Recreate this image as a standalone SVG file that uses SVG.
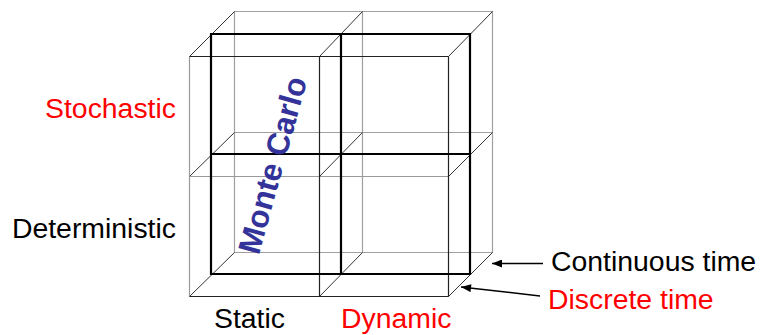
<svg xmlns="http://www.w3.org/2000/svg" width="760" height="335" viewBox="0 0 760 335">
<style>
.bk{stroke:#a0a0a0;stroke-width:1.2;fill:none}
.fr{stroke:#222;stroke-width:1.2;fill:none}
.frl{stroke:#999;stroke-width:1.2;fill:none}
.dg{stroke:#333;stroke-width:1;fill:none}
.md{stroke:#000;stroke-width:2.2;fill:none}
.lbl{font-family:"Liberation Sans",Arial,sans-serif;font-size:28.4px}
.red{fill:#ff0000}
.blk{fill:#000}
.arr{stroke:#000;stroke-width:1.5;fill:none}
</style>
<defs>
<marker id="ah" viewBox="0 0 10 8" refX="10" refY="4" markerWidth="11" markerHeight="8" markerUnits="userSpaceOnUse" orient="auto">
<path d="M0,0 L10,4 L0,8 Z" fill="#000"/>
</marker>
</defs>
<rect width="760" height="335" fill="#fff"/>
<g id="back-layer">
<path class="bk" d="M234.5,11.5 H492.5 V252.5 H234.5 Z M362.5,11.5 V252.5 M234.5,132.5 H492.5"/>
</g>
<g id="depth-edges">
<path class="dg" d="M189.5,56.5 L234.5,11.5 M319.5,56.5 L362.5,11.5 M448.5,56.5 L492.5,11.5 M189.5,176.5 L234.5,132.5 M319.5,176.5 L362.5,132.5 M448.5,176.5 L492.5,132.5 M189.5,296.5 L234.5,252.5 M319.5,296.5 L362.5,252.5 M448.5,296.5 L492.5,252.5"/>
</g>
<g id="front-layer">
<path class="frl" d="M189.5,56.5 V296.5 M189.5,176.5 H448.5"/>
<path class="fr" d="M189.5,56.5 H448.5 M189.5,296.5 H448.5 M448.5,56.5 V296.5 M319.5,56.5 V296.5"/>
</g>
<g id="middle-layer">
<path class="md" d="M211,34 H470 V274 H211 Z M341,34 V274 M211,154 H470"/>
</g>
<g id="monte-carlo">
<text transform="translate(283,168) rotate(-74.5)" text-anchor="middle" font-family="Liberation Sans, Arial, sans-serif" font-weight="bold" font-size="31.5" fill="#333399">Monte Carlo</text>
</g>
<g id="labels">
<text class="lbl red" x="176" y="118" text-anchor="end">Stochastic</text>
<text class="lbl blk" x="176" y="238" text-anchor="end">Deterministic</text>
<text class="lbl blk" x="214" y="328">Static</text>
<text class="lbl red" x="341" y="328">Dynamic</text>
<text class="lbl blk" x="551" y="270.5">Continuous time</text>
<text class="lbl red" x="548" y="308.5">Discrete time</text>
</g>
<g id="connectors">
<line class="arr" x1="543" y1="263.5" x2="492" y2="263.5" marker-end="url(#ah)"/>
<line class="arr" x1="540" y1="296" x2="461" y2="287" marker-end="url(#ah)"/>
</g>
</svg>
